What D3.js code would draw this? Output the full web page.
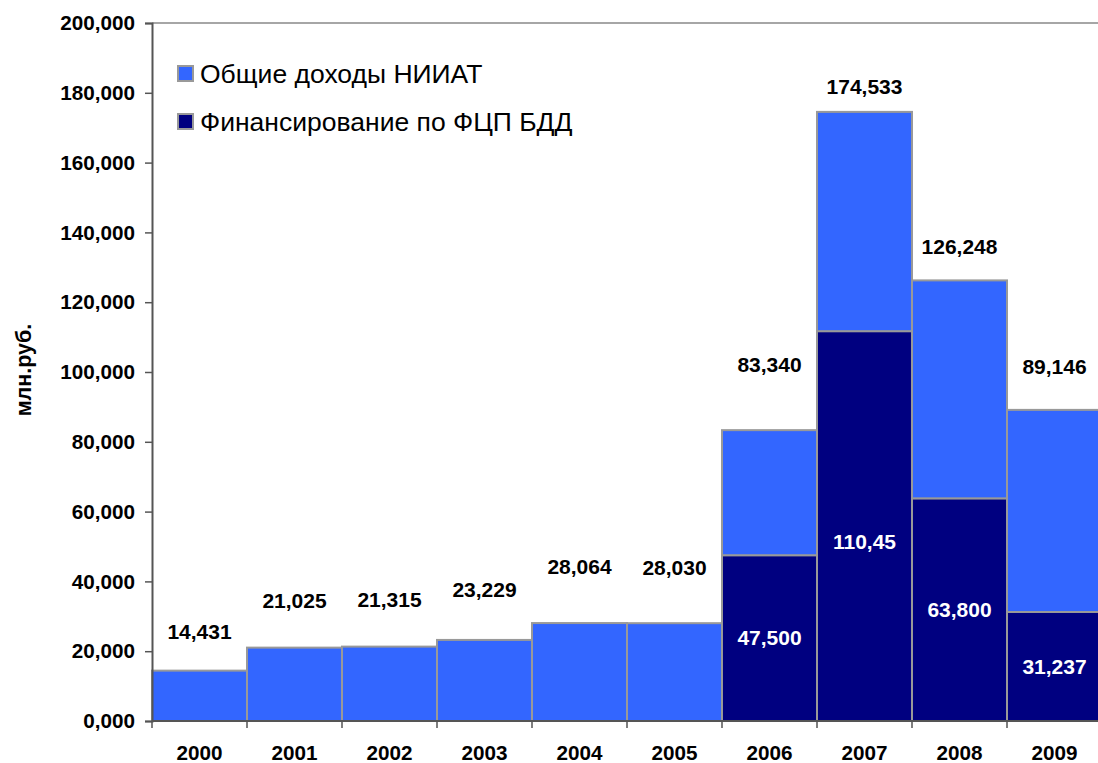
<!DOCTYPE html>
<html><head><meta charset="utf-8">
<script src="https://cdn.jsdelivr.net/npm/d3@7/dist/d3.min.js"></script>
<style>
html,body{margin:0;padding:0;background:#fff;}
svg{display:block;font-family:"Liberation Sans",Arial,sans-serif;}
</style></head>
<body>
<svg id="chart" width="1098" height="763"></svg>
<script>
// ---- data ----
const years = ["2000","2001","2002","2003","2004","2005","2006","2007","2008","2009"];
const totalIncome = [14431, 21025, 21315, 23229, 28064, 28030, 83340, 174533, 126248, 89146];
const fcpFunding = [0, 0, 0, 0, 0, 0, 47500, 111700, 63800, 31237];
const totalLabels = ["14,431","21,025","21,315","23,229","28,064","28,030","83,340","174,533","126,248","89,146"];
const fcpLabels = ["","","","","","","47,500","110,45","63,800","31,237"];
const yTicks = [0, 20000, 40000, 60000, 80000, 100000, 120000, 140000, 160000, 180000, 200000];
const yTickLabels = ["0,000","20,000","40,000","60,000","80,000","100,000","120,000","140,000","160,000","180,000","200,000"];
const seriesNames = ["Общие доходы НИИАТ", "Финансирование по ФЦП БДД"];
const yTitle = "млн.руб.";

// ---- layout ----
const colBlue = "#3366FF", colDark = "#000080", colEdge = "#999999", colAxis = "#555555";
const plotL = 152, plotR = 1102, plotT = 23, plotB = 721;
const fs = 20.7;
const totalLabelLift = [39, 47, 47, 50, 56, 56, 65, 25, 34, 43];
const fcpLabelNudge = [0, 0, 0, 0, 0, 0, 0, 16, 0, 0];

const svg = d3.select("#chart");
const x = d3.scaleBand().domain(years).range([plotL, plotR]).padding(0);
const y = d3.scaleLinear().domain([0, 200000]).range([plotB, plotT]);

// stacked data: dark (FCP) at bottom, blue remainder on top
const rows = years.map((yr, i) => ({year: yr, fcp: fcpFunding[i], rest: totalIncome[i] - fcpFunding[i]}));
const stack = d3.stack().keys(["fcp", "rest"])(rows);
const fills = {fcp: colDark, rest: colBlue};

// plot border top line
svg.append("line").attr("x1", plotL).attr("x2", 1098).attr("y1", plotT).attr("y2", plotT)
  .attr("stroke", "#888").attr("stroke-width", 1.5);

const g = svg.append("g");
stack.forEach(layer => {
  g.selectAll(null).data(layer.filter(d => d[1] - d[0] > 0)).enter().append("rect")
    .attr("x", d => x(d.data.year))
    .attr("width", x.bandwidth())
    .attr("y", d => y(d[1]))
    .attr("height", d => y(d[0]) - y(d[1]))
    .attr("fill", fills[layer.key])
    .attr("stroke", colEdge)
    .attr("stroke-width", 2);
});

// axes
const yAxis = d3.axisLeft(y).tickValues(yTicks).tickFormat((d, i) => yTickLabels[i]).tickSize(7).tickPadding(10);
const ya = svg.append("g").attr("transform", `translate(${plotL},0)`).call(yAxis);
ya.select(".domain").attr("stroke", colAxis).attr("stroke-width", 2);
ya.selectAll(".tick line").attr("stroke", colAxis).attr("stroke-width", 1.5);
ya.selectAll(".tick text").attr("font-size", fs).attr("font-weight", "bold").attr("fill", "#000")
  .attr("font-family", "Liberation Sans, Arial, sans-serif");

const xa = svg.append("g").attr("transform", `translate(0,${plotB})`);
xa.append("line").attr("x1", plotL).attr("x2", 1098).attr("y1", 0).attr("y2", 0)
  .attr("stroke", colAxis).attr("stroke-width", 2);
xa.selectAll(".xt").data(years).enter().append("line")
  .attr("x1", d => x(d)).attr("x2", d => x(d)).attr("y1", 0).attr("y2", 7)
  .attr("stroke", colAxis).attr("stroke-width", 1.5);
xa.selectAll(".xl").data(years).enter().append("text")
  .attr("x", d => x(d) + x.bandwidth() / 2).attr("y", 38.5)
  .attr("text-anchor", "middle").attr("font-size", fs).attr("font-weight", "bold")
  .text(d => d);

// y title
svg.append("text").attr("transform", `translate(31,370) rotate(-90)`)
  .attr("text-anchor", "middle").attr("font-size", 21.5).attr("font-weight", "bold").text(yTitle);

// total labels
svg.selectAll(".tl").data(years).enter().append("text")
  .attr("x", d => x(d) + x.bandwidth() / 2)
  .attr("y", (d, i) => y(totalIncome[i]) - totalLabelLift[i])
  .attr("dy", "0.35em")
  .attr("text-anchor", "middle").attr("font-size", 21).attr("font-weight", "bold").attr("fill", "#000")
  .text((d, i) => totalLabels[i]);

// fcp labels
svg.selectAll(".fl").data(years.filter((d, i) => fcpFunding[i] > 0)).enter().append("text")
  .attr("x", d => x(d) + x.bandwidth() / 2)
  .attr("y", d => { const i = years.indexOf(d); return (y(0) + y(fcpFunding[i])) / 2 + fcpLabelNudge[i]; })
  .attr("dy", "0.35em")
  .attr("text-anchor", "middle").attr("font-size", 21).attr("font-weight", "bold").attr("fill", "#fff")
  .text(d => fcpLabels[years.indexOf(d)]);

// legend
const leg = svg.append("g").attr("transform", "translate(177,65)");
seriesNames.forEach((name, i) => {
  const r = leg.append("g").attr("transform", `translate(0,${i * 48})`);
  r.append("rect").attr("x", 1).attr("y", 1).attr("width", 15).attr("height", 15)
    .attr("fill", i === 0 ? colBlue : colDark).attr("stroke", colEdge).attr("stroke-width", 2);
  r.append("text").attr("x", 23).attr("y", 18).attr("font-size", 26.5).attr("fill", "#000").text(name);
});
</script>
</body></html>
